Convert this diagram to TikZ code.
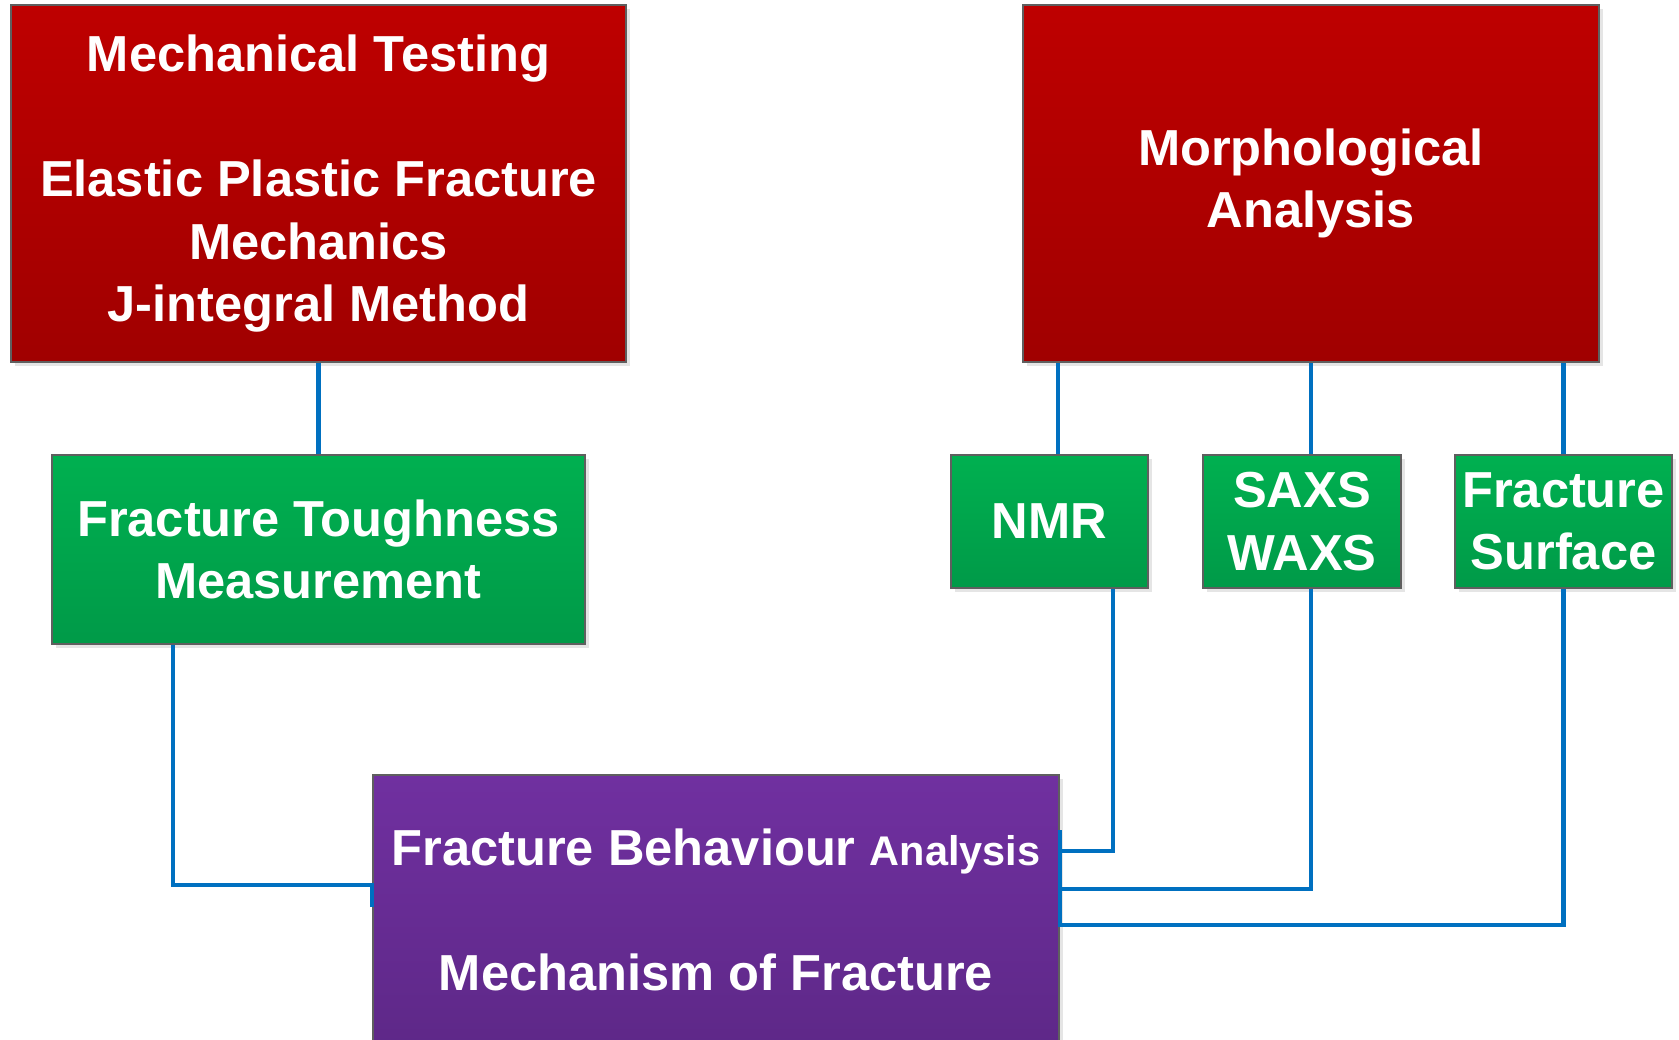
\documentclass[tikz,border=0pt]{standalone}
\usepackage{fontspec}
\setmainfont{Liberation Sans}
\usepackage{xcolor}
\usetikzlibrary{shadows}
\definecolor{cred}{HTML}{BE0000}
\definecolor{credd}{HTML}{A00000}
\definecolor{cgrn}{HTML}{00B050}
\definecolor{cgrnd}{HTML}{009A48}
\definecolor{cpur}{HTML}{7030A0}
\definecolor{cpurd}{HTML}{5E2888}
\definecolor{clink}{HTML}{0070C0}
\definecolor{cedge}{HTML}{5F5F5F}

\tikzset{
  box/.style={draw=cedge,line width=0.5pt,text=white,align=center,inner sep=2pt,
    font=\fontsize{14.4}{17.8}\selectfont\bfseries,
    drop shadow={shadow xshift=0.04cm,shadow yshift=-0.04cm,opacity=0.25,fill=black!40}},
  redbox/.style={box,top color=cred,bottom color=credd},
  greenbox/.style={box,top color=cgrn,bottom color=cgrnd},
  purplebox/.style={box,top color=cpur,bottom color=cpurd},
  link/.style={clink,line width=1.2pt}
}

\begin{document}
\begin{tikzpicture}
  \path[use as bounding box,clip] (0,0) rectangle (16.79,-10.40);
  % top row
  \node[redbox,minimum width=6.15cm,minimum height=3.57cm] (mt) at (3.185,-1.835)
    {Mechanical Testing\\[17.8pt]Elastic Plastic Fracture\\Mechanics\\J-integral Method};
  \node[redbox,minimum width=5.76cm,minimum height=3.57cm] (ma) at (13.11,-1.835)
    {Morphological\\Analysis};
  % middle row
  \node[greenbox,minimum width=5.33cm,minimum height=1.89cm] (ft) at (3.185,-5.495)
    {Fracture Toughness\\Measurement};
  \node[greenbox,minimum width=1.97cm,minimum height=1.33cm] (nmr) at (10.495,-5.215) {NMR};
  \node[greenbox,minimum width=1.98cm,minimum height=1.33cm] (saxs) at (13.02,-5.215) {SAXS\\WAXS};
  \node[greenbox,minimum width=2.17cm,minimum height=1.33cm] (fs) at (15.635,-5.215) {Fracture\\Surface};
  % bottom, cut off by the page edge
  \node[purplebox,minimum width=6.86cm,minimum height=2.70cm] (fb) at (7.16,-9.10)
    {Fracture Behaviour {\fontsize{11.8}{14}\selectfont Analysis}\\[17.8pt]Mechanism of Fracture};
  % connectors
  \draw[link] (mt) -- (ft);
  \draw[link] ([xshift=0.085cm]nmr.north) -- ([xshift=0.085cm]nmr.north |- ma.south);
  \draw[link] (saxs.north -| ma.south) -- (ma.south);
  \draw[link] (fs.north) -- (fs.north |- ma.south);
  \draw[link] ([xshift=-1.455cm]ft.south) |- ([yshift=0.25cm]fb.west) -- ([yshift=0.03cm]fb.west);
  \draw[link] ([xshift=0.635cm]nmr.south) |- ([yshift=0.59cm]fb.east) -- ([yshift=0.80cm]fb.east);
  \draw[link] ([xshift=0.09cm]saxs.south) |- ([yshift=0.21cm]fb.east) -- ([yshift=0.03cm]fb.east);
  \draw[link] (fs.south) |- ([yshift=-0.15cm]fb.east) -- ([yshift=0.59cm]fb.east);
\end{tikzpicture}
\end{document}
